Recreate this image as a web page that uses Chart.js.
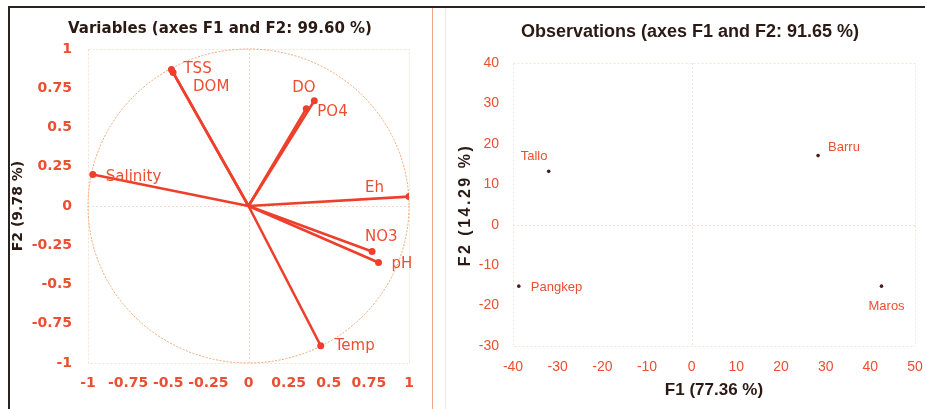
<!DOCTYPE html>
<html><head><meta charset="utf-8">
<script src="https://cdn.jsdelivr.net/npm/chart.js@4.4.1/dist/chart.umd.min.js"></script>
<style>
html,body{margin:0;padding:0;background:#fff;width:925px;height:409px;overflow:hidden;}
#frameTop{position:absolute;left:8px;top:6px;width:917px;height:2px;background:#2a2420;}
#frameLeft{position:absolute;left:8px;top:6px;width:2px;height:403px;background:#2a2420;}
#sep1{position:absolute;left:432px;top:8px;width:1px;height:401px;background:#f2a58a;}
#sep2{position:absolute;left:445px;top:8px;width:1px;height:401px;background:#f6e8de;}
#leftBox{position:absolute;left:10px;top:8px;width:422px;height:401px;}
#rightBox{position:absolute;left:446px;top:8px;width:479px;height:401px;}
</style></head>
<body>
<div id="frameTop"></div><div id="frameLeft"></div><div id="sep1"></div><div id="sep2"></div>
<div id="leftBox"><canvas id="cLeft"></canvas></div>
<div id="rightBox"><canvas id="cRight"></canvas></div>
<script>
// ---- data ----
const varNames = ['TSS','DOM','DO','PO4','Salinity','Eh','NO3','pH','Temp'];
const varF1 = [-0.48,-0.47,0.41,0.36,-0.97,1.00,0.77,0.81,0.45];
const varF2 = [0.87,0.85,0.67,0.62,0.20,0.06,-0.29,-0.36,-0.89];
const varTickVals = [-1,-0.75,-0.5,-0.25,0,0.25,0.5,0.75,1];
const varTickLabels = ['-1','-0.75','-0.5','-0.25','0','0.25','0.5','0.75','1'];

const obsNames = ['Tallo','Barru','Pangkep','Maros'];
const obsF1 = [-32,28.3,-38.7,42.5];
const obsF2 = [13.2,17.1,-15.2,-15.2];
const obsXTickVals = [-40,-30,-20,-10,0,10,20,30,40,50];
const obsXTickLabels = ['-40','-30','-20','-10','0','10','20','30','40','50'];
const obsYTickVals = [-30,-20,-10,0,10,20,30,40];
const obsYTickLabels = ['-30','-20','-10','0','10','20','30','40'];

const leftTitle = 'Variables (axes F1 and F2: 99.60 %)';
const rightTitle = 'Observations (axes F1 and F2: 91.65 %)';
const leftYTitle = 'F2 (9.78 %)';
const rightYTitle = 'F2 (14.29 %)';
const rightXTitle = 'F1 (77.36 %)';

// ---- label placement (pixel offsets from points, layout only) ----
const varLabelOffsets = [[12,0],[20,15],[-22,-13],[11,3],[13,3],[-44,-8],[-7,-14],[13,2],[14,0]];
const obsLabelOffsets = [[-28,-15],[10,-8],[12,1],[-13,20]];

// ---- styles ----
const RED = '#ee3f2c';
const TICK = '#ea4f32';
const DARK = '#2b1a14';

const decoPlugin = {
  id:'deco',
  beforeDatasetsDraw(chart, args, opts){
    const {ctx, chartArea:a, scales:{x,y}} = chart;
    ctx.save();
    ctx.strokeStyle = opts.boxColor; ctx.lineWidth = 1; ctx.setLineDash([2,2]);
    ctx.strokeRect(a.left+0.5, a.top+0.5, a.right-a.left, a.bottom-a.top);
    ctx.strokeStyle = opts.zeroColor;
    const x0 = Math.round(x.getPixelForValue(0))+0.5, y0 = Math.round(y.getPixelForValue(0))+0.5;
    ctx.beginPath(); ctx.moveTo(x0,a.top); ctx.lineTo(x0,a.bottom); ctx.moveTo(a.left,y0); ctx.lineTo(a.right,y0); ctx.stroke();
    if (opts.circle){
      ctx.strokeStyle = opts.circleColor; ctx.setLineDash([2,1.5]);
      const cx = x.getPixelForValue(0), cy = y.getPixelForValue(0);
      const rx = x.getPixelForValue(1)-cx, ry = cy - y.getPixelForValue(1);
      ctx.beginPath(); ctx.ellipse(cx,cy,rx,ry,0,0,Math.PI*2); ctx.stroke();
    }
    ctx.restore();
  },
  afterDraw(chart, args, opts){
    const ctx = chart.ctx;
    ctx.save();
    ctx.font = opts.titleFont; ctx.fillStyle = DARK; ctx.textAlign='center'; ctx.textBaseline='middle';
    ctx.fillText(opts.title, opts.titleX, opts.titleY);
    if (opts.yTitle){
      ctx.translate(opts.yTitleX, opts.yTitleY);
      ctx.rotate(-Math.PI/2);
      ctx.font = opts.yTitleFont;
      if ('letterSpacing' in ctx) ctx.letterSpacing = opts.yTitleSpacing;
      ctx.fillText(opts.yTitle, 0, 0);
    }
    ctx.restore();
  }
};
const labelPlugin = {
  id:'ptLabels',
  afterDatasetsDraw(chart, args, opts){
    const ctx = chart.ctx;
    ctx.save();
    ctx.font = opts.font; ctx.fillStyle = opts.color; ctx.textAlign='left'; ctx.textBaseline='middle';
    opts.names.forEach((n,i)=>{
      let el;
      if (opts.perDataset){ el = chart.getDatasetMeta(i).data[1]; }
      else { el = chart.getDatasetMeta(0).data[i]; }
      ctx.fillText(n, el.x + opts.offsets[i][0], el.y + opts.offsets[i][1]);
    });
    ctx.restore();
  }
};

function tickAxis(vals, labels, fit, extra){
  return Object.assign({
    type:'linear', min:vals[0], max:vals[vals.length-1],
    afterBuildTicks: s => { s.ticks = vals.map(v=>({value:v})); },
    grid:{display:false, drawTicks:false}, border:{display:false},
  }, extra, {afterFit: s => { fit(s); s.paddingLeft = 0; s.paddingRight = 0; s.paddingTop = 0; s.paddingBottom = 0; }});
}

// ---- left chart ----
new Chart(document.getElementById('cLeft'), {
  type:'scatter',
  data:{ datasets: varNames.map((n,i)=>({
    label:n,
    data:[{x:0,y:0},{x:varF1[i],y:varF2[i]}],
    showLine:true, borderColor:RED, borderWidth:2.6,
    pointRadius:[0,3.5], pointBackgroundColor:RED, pointBorderColor:RED, pointBorderWidth:0
  }))},
  options:{
    responsive:true, maintainAspectRatio:false, animation:false,
    layout:{padding:{top:41,right:23,left:0,bottom:0}},
    plugins:{ legend:{display:false}, tooltip:{enabled:false},
      deco:{boxColor:'#f6e0cc', zeroColor:'#f3ddc8', circle:true, circleColor:'#f2a36e',
            title:leftTitle, titleFont:'bold 15px "DejaVu Sans"', titleX:210, titleY:21},
      ptLabels:{names:varNames, offsets:varLabelOffsets, perDataset:true, font:'15px "DejaVu Sans"', color:TICK}
    },
    scales:{
      x: tickAxis(varTickVals, varTickLabels, s=>{s.height=46}, {
        ticks:{padding:12, color:TICK, font:{family:'DejaVu Sans', size:14, weight:'bold'}, maxRotation:0, autoSkip:false,
               callback:(v,i)=>varTickLabels[i]}
      }),
      y: tickAxis(varTickVals, varTickLabels, s=>{s.width=78}, {
        ticks:{padding:16, color:TICK, font:{family:'DejaVu Sans', size:14, weight:'bold'}, autoSkip:false,
               callback:(v,i)=>varTickLabels[i]},
        title:{display:true, text:leftYTitle, color:DARK, font:{family:'DejaVu Sans', size:14, weight:'bold'}, padding:{top:0,bottom:0}}
      })
    }
  },
  plugins:[decoPlugin, labelPlugin]
});

// ---- right chart ----
new Chart(document.getElementById('cRight'), {
  type:'scatter',
  data:{ datasets:[{
    label:'Observations',
    data: obsF1.map((v,i)=>({x:v,y:obsF2[i]})),
    pointRadius:1.8, pointBackgroundColor:'#4a1d1d', pointBorderWidth:0
  }]},
  options:{
    responsive:true, maintainAspectRatio:false, animation:false,
    layout:{padding:{top:55,right:10,left:0,bottom:0}},
    plugins:{ legend:{display:false}, tooltip:{enabled:false},
      deco:{boxColor:'#f6e4d4', zeroColor:'#f3e2d2', circle:false,
            title:rightTitle, titleFont:'bold 18px "Liberation Sans"', titleX:244, titleY:24,
            yTitle:rightYTitle, yTitleFont:'bold 16px "Liberation Sans"', yTitleSpacing:'2.5px', yTitleX:20, yTitleY:197},
      ptLabels:{names:obsNames, offsets:obsLabelOffsets, perDataset:false, font:'13px "Liberation Sans"', color:TICK}
    },
    scales:{
      x: tickAxis(obsXTickVals, obsXTickLabels, s=>{s.height=63}, {
        ticks:{padding:13, color:TICK, font:{family:'"Liberation Sans Narrow", "Liberation Sans"', size:14}, maxRotation:0, autoSkip:false,
               callback:(v,i)=>obsXTickLabels[i]},
        title:{display:true, text:rightXTitle, color:DARK, font:{family:'Liberation Sans', size:17, weight:'bold'}, padding:{top:0,bottom:8}}
      }),
      y: tickAxis(obsYTickVals, obsYTickLabels, s=>{s.width=67}, {
        ticks:{padding:14, color:TICK, font:{family:'"Liberation Sans Narrow", "Liberation Sans"', size:14}, autoSkip:false,
               callback:(v,i)=>obsYTickLabels[i]}
      })
    }
  },
  plugins:[decoPlugin, labelPlugin]
});
</script>
</body></html>
